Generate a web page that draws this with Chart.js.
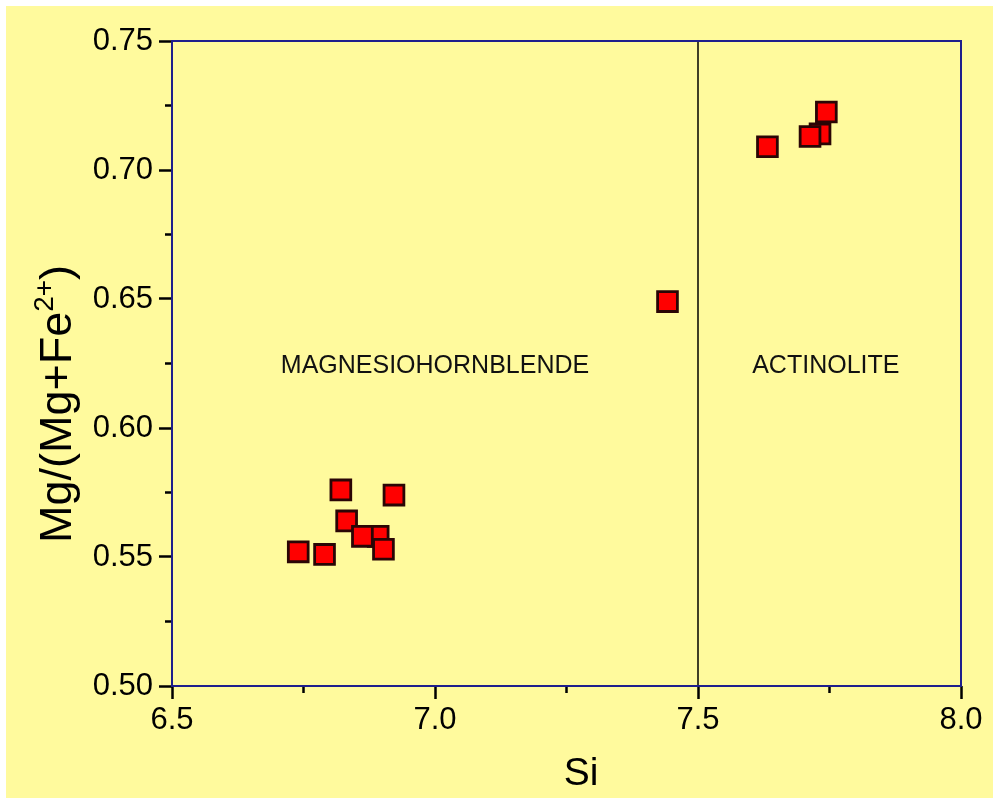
<!DOCTYPE html>
<html>
<head>
<meta charset="utf-8">
<title>Amphibole classification: Si vs Mg/(Mg+Fe2+)</title>
<script src="https://cdn.jsdelivr.net/npm/chart.js@4/dist/chart.umd.min.js"></script>
<style>
  html, body { margin: 0; padding: 0; background: #ffffff; }
  canvas { display: block; }
</style>
</head>
<body>
<canvas id="chart" width="993" height="798"></canvas>
<script>
// Amphibole analyses (atoms per formula unit)
const siValues = [6.740, 6.790, 6.821, 6.832, 6.892, 6.862, 6.902, 6.922, 7.442, 7.632, 7.732, 7.744, 7.713];
const mgNumber = [0.552, 0.551, 0.576, 0.564, 0.558, 0.558, 0.553, 0.574, 0.649, 0.709, 0.714, 0.7225, 0.713];

// Field boundary between magnesiohornblende and actinolite
const boundarySi = [7.5, 7.5];
const boundaryMg = [0.50, 0.75];

// Field names and where they sit (data units)
const fieldNames = ['MAGNESIOHORNBLENDE', 'ACTINOLITE'];
const fieldSi = [7.0, 7.743];
const fieldMg = [0.624, 0.624];

// Axis ranges and tick steps
const xRange = [6.5, 8.0];
const yRange = [0.50, 0.75];
const xMajorStep = 0.5, xMinorStep = 0.25;
const yMajorStep = 0.05, yMinorStep = 0.025;

const FONT = '"Liberation Sans", Arial, Helvetica, sans-serif';

const analyses = siValues.map((x, i) => ({ x, y: mgNumber[i] }));
const boundary = boundarySi.map((x, i) => ({ x, y: boundaryMg[i] }));

function isMajor(v, step) {
  const r = v / step;
  return Math.abs(r - Math.round(r)) < 1e-6;
}

// Page background, framed plot box, minor ticks, field names and axis titles
const decorations = {
  id: 'decorations',
  beforeDraw(chart) {
    const { ctx, width, height } = chart;
    ctx.save();
    ctx.fillStyle = '#ffffff';
    ctx.fillRect(0, 0, width, height);
    ctx.fillStyle = '#fffa9d';
    ctx.fillRect(6, 6, width - 6, height - 6);
    ctx.restore();
  },
  afterDatasetsDraw(chart) {
    const { ctx } = chart;
    const xs = chart.scales.x, ys = chart.scales.y;
    ctx.save();
    ctx.fillStyle = '#111111';
    ctx.font = '25px ' + FONT;
    ctx.textAlign = 'center';
    ctx.textBaseline = 'middle';
    fieldNames.forEach((name, i) => {
      ctx.fillText(name, xs.getPixelForValue(fieldSi[i]), ys.getPixelForValue(fieldMg[i]));
    });
    ctx.restore();
  },
  afterDraw(chart) {
    const { ctx, chartArea: a } = chart;
    const xs = chart.scales.x, ys = chart.scales.y;
    ctx.save();
    // minor ticks
    ctx.strokeStyle = '#000000';
    ctx.lineWidth = 2.5;
    ctx.beginPath();
    xs.ticks.forEach(t => {
      if (!isMajor(t.value, xMajorStep)) {
        const px = xs.getPixelForValue(t.value);
        ctx.moveTo(px, a.bottom);
        ctx.lineTo(px, a.bottom + 7);
      }
    });
    ys.ticks.forEach(t => {
      if (!isMajor(t.value, yMajorStep)) {
        const py = ys.getPixelForValue(t.value);
        ctx.moveTo(a.left, py);
        ctx.lineTo(a.left - 7, py);
      }
    });
    ctx.stroke();
    // plot frame
    ctx.strokeStyle = '#1e1e8c';
    ctx.lineWidth = 2;
    ctx.strokeRect(a.left, a.top, a.right - a.left, a.bottom - a.top);

    ctx.fillStyle = '#000000';

    // x axis title
    ctx.font = '39px ' + FONT;
    ctx.textAlign = 'center';
    ctx.textBaseline = 'alphabetic';
    ctx.fillText('Si', 581, 785);

    // y axis title with superscript charge
    const main1 = 'Mg/(Mg+Fe', sup = '2+', main2 = ')';
    const bigFont = '45px ' + FONT, supFont = '28px ' + FONT;
    ctx.textAlign = 'left';
    ctx.font = bigFont;
    const w1 = ctx.measureText(main1).width, w3 = ctx.measureText(main2).width;
    ctx.font = supFont;
    const w2 = ctx.measureText(sup).width;
    const total = w1 + w2 + w3;
    ctx.translate(71, 404);
    ctx.rotate(-Math.PI / 2);
    const x0 = -total / 2;
    ctx.font = bigFont;
    ctx.fillText(main1, x0, 0);
    ctx.font = supFont;
    ctx.fillText(sup, x0 + w1, -18);
    ctx.font = bigFont;
    ctx.fillText(main2, x0 + w1 + w2, 0);
    ctx.restore();
  }
};

new Chart(document.getElementById('chart'), {
  type: 'scatter',
  data: {
    datasets: [
      {
        label: 'Boundary',
        data: boundary,
        showLine: true,
        borderColor: '#000000',
        borderWidth: 1.5,
        pointRadius: 0,
        fill: false
      },
      {
        label: 'Amphibole',
        data: analyses,
        pointStyle: 'rect',
        pointRadius: 14,
        pointHoverRadius: 14,
        backgroundColor: '#ff0000',
        borderColor: '#2a0505',
        borderWidth: 2.8
      }
    ]
  },
  plugins: [decorations],
  options: {
    responsive: false,
    devicePixelRatio: 1,
    animation: false,
    layout: { padding: { left: 0, top: 41, right: 32, bottom: 0 } },
    plugins: {
      legend: { display: false },
      tooltip: { enabled: false }
    },
    scales: {
      x: {
        type: 'linear',
        min: xRange[0],
        max: xRange[1],
        afterFit(scale) { scale.height = 112; },
        border: { display: false },
        grid: {
          drawOnChartArea: false,
          drawTicks: true,
          tickLength: 13,
          tickWidth: 2.5,
          color: c => (c.tick && isMajor(c.tick.value, xMajorStep)) ? '#000000' : 'rgba(0,0,0,0)'
        },
        ticks: {
          stepSize: xMinorStep,
          padding: 3,
          color: '#000000',
          font: { family: FONT, size: 31 },
          maxRotation: 0,
          autoSkip: false,
          callback: v => isMajor(v, xMajorStep) ? v.toFixed(1) : ''
        },
        title: { display: false }
      },
      y: {
        type: 'linear',
        min: yRange[0],
        max: yRange[1],
        afterFit(scale) { scale.width = 172; },
        border: { display: false },
        grid: {
          drawOnChartArea: false,
          drawTicks: true,
          tickLength: 13,
          tickWidth: 2.5,
          color: c => (c.tick && isMajor(c.tick.value, yMajorStep)) ? '#000000' : 'rgba(0,0,0,0)'
        },
        ticks: {
          stepSize: yMinorStep,
          padding: 6,
          color: '#000000',
          font: { family: FONT, size: 31 },
          autoSkip: false,
          callback: v => isMajor(v, yMajorStep) ? v.toFixed(2) : ''
        },
        title: { display: false }
      }
    }
  }
});
</script>
</body>
</html>
